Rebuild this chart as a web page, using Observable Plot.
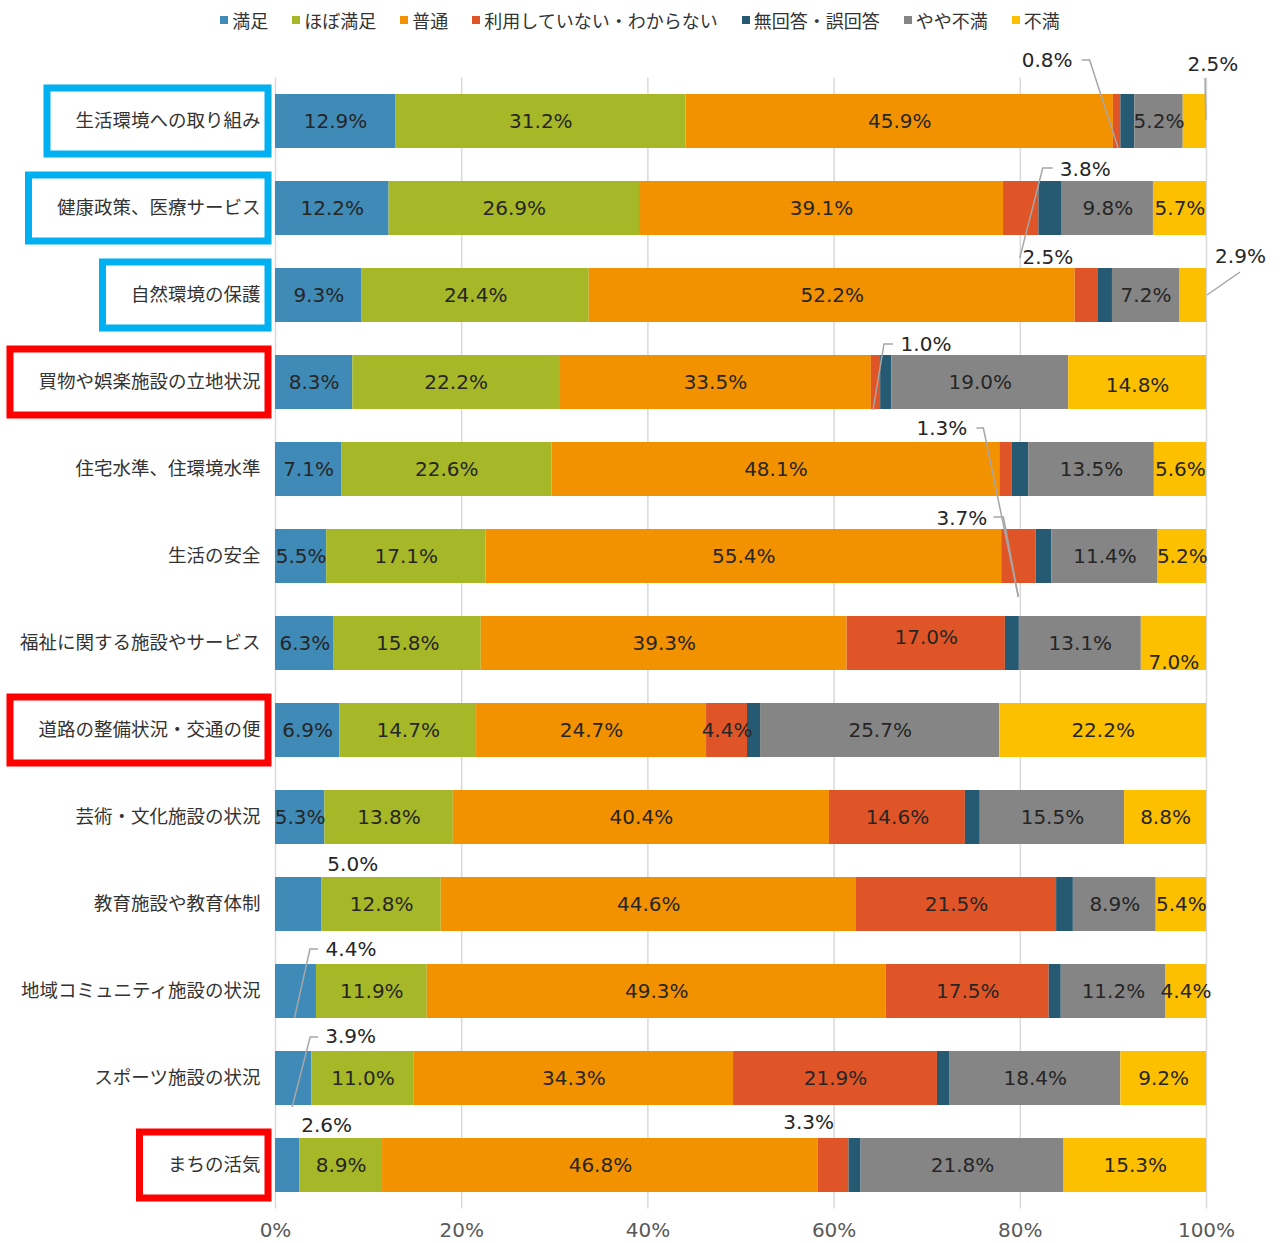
<!DOCTYPE html>
<html><head><meta charset="utf-8">
<script src="https://cdn.jsdelivr.net/npm/d3@7"></script>
<script src="https://cdn.jsdelivr.net/npm/@observablehq/plot@0.6"></script>
<style>
body{margin:0;background:#fff;}
#legend{height:40px;display:flex;justify-content:center;align-items:center;font-family:"Noto Sans CJK JP";font-size:18px;color:#333;line-height:1;}
#legend .item{display:flex;align-items:center;margin:0 12px;white-space:nowrap;}
#legend .sw{display:inline-block;width:8px;height:8px;margin-right:4px;}
</style></head><body>
<div id="legend"></div><div id="chart"></div>
<script>
const categories = ["生活環境への取り組み","健康政策、医療サービス","自然環境の保護","買物や娯楽施設の立地状況","住宅水準、住環境水準","生活の安全","福祉に関する施設やサービス","道路の整備状況・交通の便","芸術・文化施設の状況","教育施設や教育体制","地域コミュニティ施設の状況","スポーツ施設の状況","まちの活気"];
const seriesNames = ["満足","ほぼ満足","普通","利用していない・わからない","無回答・誤回答","やや不満","不満"];
const colors = ["#3F8AB6","#A6B828","#F39200","#E05527","#265A72","#858585","#FDC000"];
const manzoku   = [12.9,12.2,9.3,8.3,7.1,5.5,6.3,6.9,5.3,5.0,4.4,3.9,2.6];
const hoboManzoku = [31.2,26.9,24.4,22.2,22.6,17.1,15.8,14.7,13.8,12.8,11.9,11.0,8.9];
const futsu     = [45.9,39.1,52.2,33.5,48.1,55.4,39.3,24.7,40.4,44.6,49.3,34.3,46.8];
const riyouNashi = [0.8,3.8,2.5,1.0,1.3,3.7,17.0,4.4,14.6,21.5,17.5,21.9,3.3];
const mukaitou  = [1.5,2.5,1.5,1.2,1.8,1.7,1.5,1.4,1.6,1.8,1.3,1.3,1.3];
const yayaFuman = [5.2,9.8,7.2,19.0,13.5,11.4,13.1,25.7,15.5,8.9,11.2,18.4,21.8];
const fuman     = [2.5,5.7,2.9,14.8,5.6,5.2,7.0,22.2,8.8,5.4,4.4,9.2,15.3];
const xTicks = [0,20,40,60,80,100];
const highlighted = [
  {category:"生活環境への取り組み", color:"#00B0F0"},
  {category:"健康政策、医療サービス", color:"#00B0F0"},
  {category:"自然環境の保護", color:"#00B0F0"},
  {category:"買物や娯楽施設の立地状況", color:"#FF0000"},
  {category:"道路の整備状況・交通の便", color:"#FF0000"},
  {category:"まちの活気", color:"#FF0000"}
];

// layout config for labels placed outside their segment (pixel offsets)
const outsideCfg = [
  {c:0, s:3, dx:-70, dy:-61, leader:[[-35,-61],[-27,-61],[1.5,27]]},
  {c:0, s:6, dx:18, dy:-57, leader:[[10.6,-43],[11.6,-1]]},
  {c:1, s:3, dx:64, dy:-39, leader:[[32,-40],[22,-40],[-1,50]]},
  {c:2, s:3, dx:-39, dy:-38},
  {c:2, s:6, dx:47.5, dy:-39, leader:[[47.5,-23],[14.5,0]]},
  {c:3, s:3, dx:50, dy:-38, leader:[[17.5,-38],[8.5,-38],[-2.5,28]]},
  {c:4, s:3, dx:-64, dy:-41, leader:[[-29,-41],[-22,-41],[13,128]]},
  {c:5, s:3, dx:-57, dy:-38, leader:[[-25,-39],[-15,-39],[0,41]]},
  {c:9, s:0, dx:54, dy:-40},
  {c:10, s:0, dx:55, dy:-42, leader:[[22.5,-42],[14.5,-42],[-1,27]]},
  {c:11, s:0, dx:57, dy:-42, leader:[[25,-41],[17,-41],[-1,29]]},
  {c:12, s:0, dx:39, dy:-40},
  {c:12, s:3, dx:-25, dy:-43}
];
const shiftCfg = [{c:6,s:6,dy:19},{c:6,s:3,dy:-6},{c:3,s:6,dy:3}];

const valueArrays = [manzoku,hoboManzoku,futsu,riyouNashi,mukaitou,yayaFuman,fuman];
const rows = [];
categories.forEach((c,i)=>{
  let acc = 0;
  seriesNames.forEach((s,j)=>{
    const v = valueArrays[j][i];
    rows.push({category:c, ci:i, series:s, si:j, value:v, x1:acc, x2:acc+v, mid:acc+v/2, label:v.toFixed(1)+"%"});
    acc += v;
  });
});
const find = (c,s) => rows.find(r=>r.ci===c && r.si===s);
const isOut = r => outsideCfg.some(o=>o.c===r.ci && o.s===r.si);
const isShift = r => shiftCfg.some(o=>o.c===r.ci && o.s===r.si);
const inside = rows.filter(r => r.si !== 4 && !isOut(r) && !isShift(r));

// legend
document.getElementById("legend").innerHTML = seriesNames.map((s,i)=>
  `<span class="item"><span class="sw" style="background:${colors[i]}"></span>${s}</span>`).join("");

const labelStyle = {fill:"#262626", fontSize:20, fontFamily:"DejaVu Sans"};
const marks = [
  Plot.gridX(xTicks, {stroke:"#d9d9d9", strokeOpacity:1, strokeWidth:1.5}),
  Plot.barX(rows, {x1:"x1", x2:"x2", y:"category", fill:"series"}),
  Plot.text(inside, {x:"mid", y:"category", text:"label", ...labelStyle}),
  ...shiftCfg.map(o => Plot.text([find(o.c,o.s)], {x:"mid", y:"category", text:"label", dy:o.dy, ...labelStyle})),
  ...outsideCfg.map(o => Plot.text([find(o.c,o.s)], {x:"mid", y:"category", text:"label", dx:o.dx, dy:o.dy, ...labelStyle})),
  Plot.axisX(xTicks, {tickFormat:d=>d+"%", tickSize:0, tickPadding:14, fontSize:20, fill:"#595959", label:null, fontFamily:"DejaVu Sans"}),
  Plot.axisY({tickSize:0, tickPadding:15, fontSize:18.5, fill:"#333", fontFamily:"Noto Sans CJK JP", label:null})
];

const plot = Plot.plot({
  width:1280, height:1203,
  marginLeft:275, marginRight:74, marginTop:37.5, marginBottom:34.5,
  x:{domain:[0,100]},
  y:{type:"band", domain:categories, paddingInner:0.38, paddingOuter:0.19},
  color:{domain:seriesNames, range:colors},
  style:{background:"white", overflow:"visible"},
  marks
});
document.getElementById("chart").appendChild(plot);

const xs = plot.scale("x"), ys = plot.scale("y");
const bw = ys.bandwidth;
const svg = d3.select(plot);
// leader lines
const lg = svg.append("g").attr("fill","none").attr("stroke","#a6a6a6").attr("stroke-width",1.5);
outsideCfg.filter(o=>o.leader).forEach(o=>{
  const r = find(o.c,o.s);
  const cx = xs.apply(r.mid), cy = ys.apply(r.category) + bw/2;
  lg.append("polyline").attr("points", o.leader.map(p=>[cx+p[0], cy+p[1]].join(",")).join(" "));
});
// highlight boxes around category labels
const tickTexts = Array.from(plot.querySelectorAll('g[aria-label="y-axis tick label"] text'));
const bg = svg.append("g").attr("fill","none").attr("stroke-width",7);
highlighted.forEach(h=>{
  const t = tickTexts.find(e=>e.textContent===h.category);
  const w = t ? t.getComputedTextLength() : 150;
  const right = 275 - 7;
  const left = 275 - 15 - w - 28;
  const cy = ys.apply(h.category) + bw/2;
  bg.append("rect").attr("x",left).attr("y",cy-33).attr("width",right-left).attr("height",66).attr("stroke",h.color);
});
</script>
</body></html>
